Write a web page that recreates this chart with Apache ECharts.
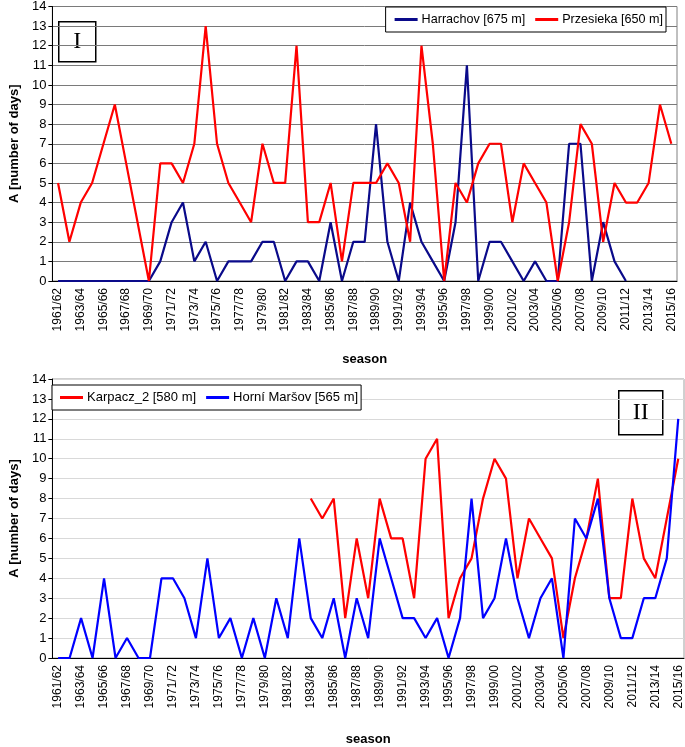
<!DOCTYPE html>
<html><head><meta charset="utf-8">
<script src="https://cdn.jsdelivr.net/npm/echarts@6/dist/echarts.min.js"></script>
<style>html,body{margin:0;padding:0;background:#fff}#c{width:685px;height:747px}</style>
</head><body><div id="c"></div>
<script>
const seasons = [];
for (let y = 1961; y <= 2015; y++) seasons.push(y + '/' + String((y + 1) % 100).padStart(2, '0'));

const harrachov = [0,0,0,0,0,0,0,0,0,1,3,4,1,2,0,1,1,1,2,2,0,1,1,0,3,0,2,2,8,2,0,4,2,1,0,3,11,0,2,2,1,0,1,0,0,7,7,0,3,1,0,null,null,null,null];
const przesieka = [5,2,4,5,7,9,6,3,0,6,6,5,7,13,7,5,4,3,7,5,5,12,3,3,5,1,5,5,5,6,5,2,12,7,0,5,4,6,7,7,3,6,5,4,0,3,8,7,2,5,4,4,5,9,7];
const karpacz2 = [null,null,null,null,null,null,null,null,null,null,null,null,null,null,null,null,null,null,null,null,null,null,
  8,7,8,2,6,3,8,6,6,3,10,11,2,4,5,8,10,9,4,7,6,5,1,4,6,9,3,3,8,5,4,7,10];
const horniMarsov = [0,0,2,0,4,0,1,0,0,4,4,3,1,5,1,2,0,2,0,3,1,6,2,1,3,0,3,1,6,4,2,2,1,2,0,2,8,2,3,6,3,1,3,4,0,7,6,8,3,1,1,3,3,5,12];

const FONT = 'Liberation Sans, Arial, sans-serif';
const chart = echarts.init(document.getElementById('c'));

function xAxis(gridIndex, gap) {
  return {
    type: 'category', gridIndex, data: seasons, boundaryGap: true,
    name: 'season', nameLocation: 'middle', nameGap: gap,
    nameTextStyle: { fontFamily: FONT, fontSize: 13, fontWeight: 'bold', color: '#000' },
    axisLine: { lineStyle: { color: '#000', width: 1 } },
    axisTick: { interval: 0, length: 5, lineStyle: { color: '#000' } },
    axisLabel: { interval: 1, rotate: 90, fontFamily: FONT, fontSize: 12, color: '#000', margin: 7 },
    splitLine: { show: false }
  };
}
function yAxis(gridIndex, gridColor) {
  return {
    type: 'value', gridIndex, min: 0, max: 14, interval: 1,
    name: 'A [number of days]', nameLocation: 'middle', nameGap: 30,
    nameTextStyle: { fontFamily: FONT, fontSize: 13, fontWeight: 'bold', color: '#000' },
    axisLine: { show: true, lineStyle: { color: '#000', width: 1 } },
    axisTick: { show: true, length: 4, lineStyle: { color: '#000' } },
    axisLabel: { fontFamily: FONT, fontSize: 13, color: '#000', margin: 6 },
    splitLine: { show: true, lineStyle: { color: gridColor, width: 1 } }
  };
}

const option = {
  animation: false,
  backgroundColor: '#fff',
  grid: [
    { left: 43, right: 8, top: 5, height: 276, show: true, borderColor: '#808080', borderWidth: 1 },
    { left: 44, right: 1, top: 379, height: 286, show: true, borderColor: '#a0a0a0', borderWidth: 1 }
  ],
  xAxis: [xAxis(0, 72), xAxis(1, 75)],
  yAxis: [yAxis(0, '#7a7a7a'), yAxis(1, '#d9d9d9')],
  legend: [
    { top: 7, right: 19, orient: 'horizontal', itemWidth: 23, itemHeight: 3, itemGap: 10,
      padding: [6, 3, 6, 9], borderColor: '#000', borderWidth: 1, backgroundColor: '#fff',
      textStyle: { fontFamily: FONT, fontSize: 12.6, color: '#000', padding: [0, 0, 0, -1] },
      data: [{ name: 'Harrachov [675 m]', icon: 'rect' }, { name: 'Przesieka [650 m]', icon: 'rect' }] },
    { top: 385, left: 52, orient: 'horizontal', itemWidth: 23, itemHeight: 3, itemGap: 10,
      padding: [6, 3, 6, 8], borderColor: '#000', borderWidth: 1, backgroundColor: '#fff',
      textStyle: { fontFamily: FONT, fontSize: 13, color: '#000', padding: [0, 0, 0, -1] },
      data: [{ name: 'Karpacz_2 [580 m]', icon: 'rect' }, { name: 'Horní Maršov [565 m]', icon: 'rect' }] }
  ],
  series: [
    { name: 'Harrachov [675 m]', type: 'line', xAxisIndex: 0, yAxisIndex: 0, data: harrachov,
      symbol: 'none', color: '#0a0a8a', lineStyle: { width: 2.2, color: '#0a0a8a' } },
    { name: 'Przesieka [650 m]', type: 'line', xAxisIndex: 0, yAxisIndex: 0, data: przesieka,
      symbol: 'none', color: '#ff0000', lineStyle: { width: 2.2, color: '#ff0000' } },
    { name: 'Karpacz_2 [580 m]', type: 'line', xAxisIndex: 1, yAxisIndex: 1, data: karpacz2,
      symbol: 'none', color: '#ff0000', lineStyle: { width: 2.2, color: '#ff0000' } },
    { name: 'Horní Maršov [565 m]', type: 'line', xAxisIndex: 1, yAxisIndex: 1, data: horniMarsov,
      symbol: 'none', color: '#0000ff', lineStyle: { width: 2.2, color: '#0000ff' } }
  ],
  graphic: [
    { type: 'group', left: 58, top: 21, children: [
      { type: 'rect', shape: { x: 0, y: 0, width: 37, height: 40 },
        style: { fill: '#fff', stroke: '#000', lineWidth: 1.5 } },
      { type: 'text', x: 18.5, y: 20, style: { text: 'I', font: '24px "Liberation Serif", "Times New Roman", serif',
        fill: '#000', align: 'center', verticalAlign: 'middle' } }
    ] },
    { type: 'group', left: 618, top: 390, children: [
      { type: 'rect', shape: { x: 0, y: 0, width: 44, height: 44 },
        style: { fill: '#fff', stroke: '#000', lineWidth: 1.5 } },
      { type: 'text', x: 22, y: 22, style: { text: 'II', font: '24px "Liberation Serif", "Times New Roman", serif',
        fill: '#000', align: 'center', verticalAlign: 'middle' } }
    ] }
  ]
};
chart.setOption(option);
</script></body></html>
